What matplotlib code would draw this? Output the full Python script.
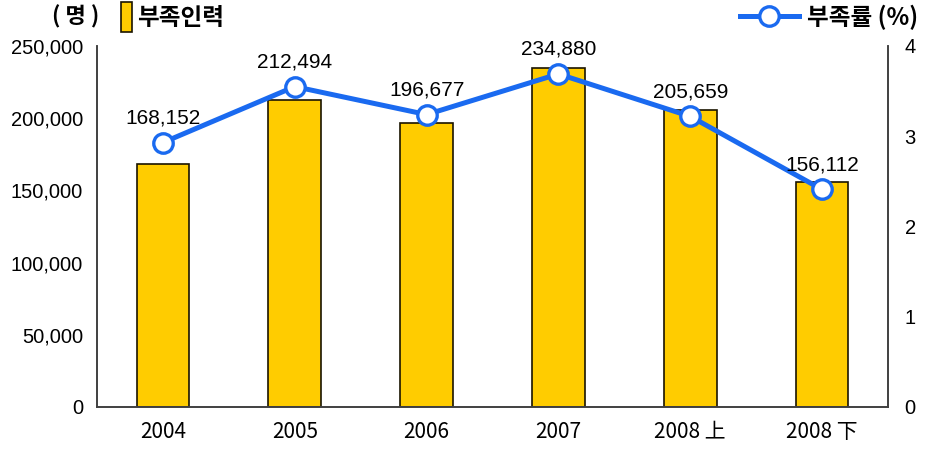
import matplotlib.pyplot as plt
from matplotlib.lines import Line2D
from matplotlib.patches import Patch

plt.rcParams['font.family'] = ['Liberation Sans', 'Noto Sans CJK KR', 'DejaVu Sans']

# data
periods = ['2004', '2005', '2006', '2007', '2008 上', '2008 下']
shortage = [168152, 212494, 196677, 234880, 205659, 156112]
shortage_rate = [2.93, 3.55, 3.24, 3.69, 3.22, 2.41]

BAR = '#FFCC00'
LINE = '#1A6AF0'
SPINE = '#404040'

fig = plt.figure(figsize=(9.3, 4.5), dpi=100)
ax = fig.add_axes([0.1043, 0.0956, 0.8505, 0.8022])
ax2 = ax.twinx()

x = range(len(periods))
bars = ax.bar(x, shortage, width=0.4, color=BAR, edgecolor='#1a1400', linewidth=1.2, zorder=2)
ax.set_xlim(-0.5, len(periods) - 0.5)
ax.set_ylim(0, 250000)
ax.set_yticks(range(0, 250001, 50000))
ax.set_yticklabels([f'{v:,}' for v in range(0, 250001, 50000)], fontsize=14.5)
ax.set_xticks(list(x))
ax.set_xticklabels(periods, fontsize=15, family=['Noto Sans CJK KR'])
ax.tick_params(length=0, pad=10)
ax.tick_params(axis='y', pad=10)

line, = ax2.plot(x, shortage_rate, color=LINE, linewidth=3.6, marker='o', markersize=14,
                 markerfacecolor='white', markeredgecolor=LINE, markeredgewidth=2.4, zorder=3)
ax2.set_ylim(0, 4)
ax2.set_yticks(range(0, 5))
ax2.set_yticklabels([str(v) for v in range(0, 5)], fontsize=14.5)
ax2.tick_params(length=0, pad=12)

for a in (ax, ax2):
    a.spines['top'].set_visible(False)
    for s in ('left', 'right', 'bottom'):
        a.spines[s].set_color(SPINE)
        a.spines[s].set_linewidth(1.2)

for i, (v, r) in enumerate(zip(shortage, shortage_rate)):
    ax2.annotate(f'{v:,}', (i, r), xytext=(0, 11), textcoords='offset points',
                 ha='center', va='bottom', fontsize=15)

# legends
fig.text(0.056, 0.962, '( 명 )', fontsize=16, fontweight='bold', va='center',
         family=['Noto Sans CJK KR'])
leg1 = fig.legend([Patch(facecolor=BAR, edgecolor='#1a1400', linewidth=1.2)], ['부족인력'],
                  loc='center left', bbox_to_anchor=(0.117, 0.962), frameon=False,
                  handlelength=0.5, handleheight=1.6, handletextpad=0.2, borderpad=0,
                  prop={'family': 'Noto Sans CJK KR', 'weight': 'bold', 'size': 17})
leg2 = fig.legend([Line2D([], [], color=LINE, linewidth=3.6, marker='o', markersize=14,
                          markerfacecolor='white', markeredgecolor=LINE, markeredgewidth=2.4)],
                  ['부족률 (%)'], loc='center right', bbox_to_anchor=(1.0, 0.962), frameon=False,
                  handlelength=2.5, handletextpad=0.35, borderpad=0,
                  prop={'family': 'Noto Sans CJK KR', 'weight': 'bold', 'size': 17})

fig.savefig('out.png', dpi=100)
